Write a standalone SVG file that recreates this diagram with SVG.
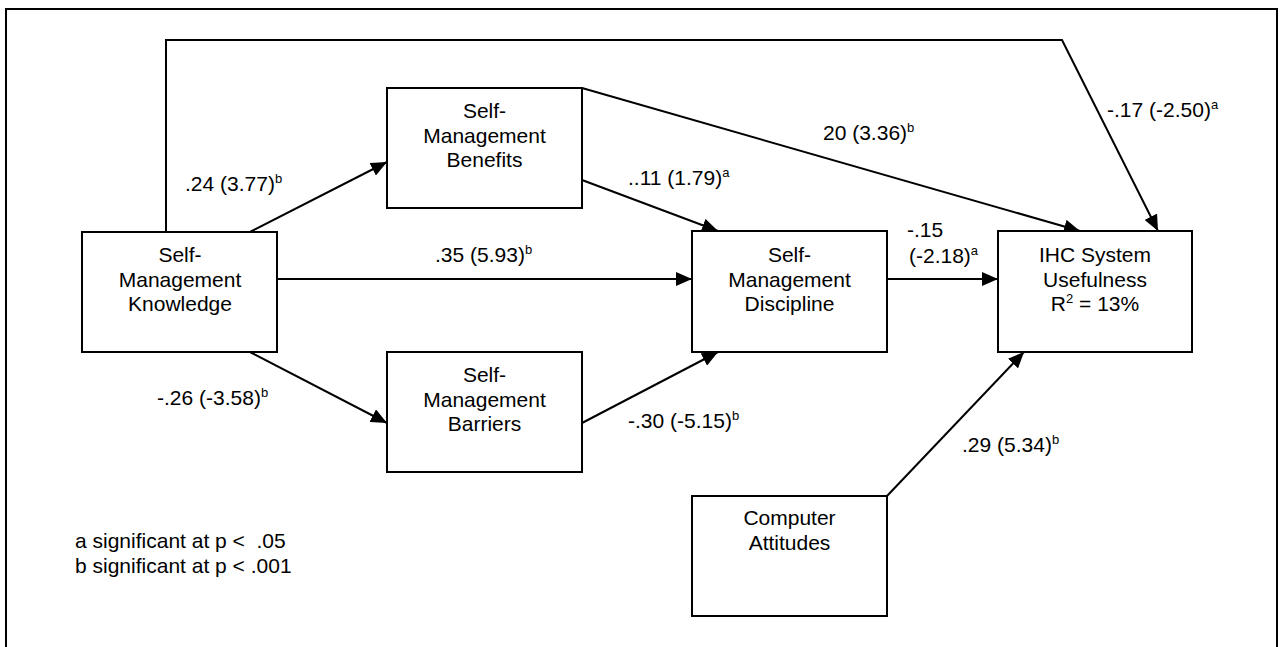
<svg xmlns="http://www.w3.org/2000/svg" width="1280" height="647" viewBox="0 0 1280 647">
<style>
  text { font-family: "Liberation Sans", Arial, sans-serif; font-size: 21px; fill: #000; }
  .c { text-anchor: middle; }
  .sup { font-size: 13px; }
  .box { fill: #fff; stroke: #000; stroke-width: 2; }
  .edge { fill: none; stroke: #000; stroke-width: 2; marker-end: url(#arr); }
</style>
<defs>
  <marker id="arr" markerUnits="userSpaceOnUse" markerWidth="16" markerHeight="14" refX="16" refY="7" orient="auto">
    <path d="M0,0 L16,7 L0,14 z" fill="#000"/>
  </marker>
</defs>
<rect width="1280" height="647" fill="#fff"/>
<path d="M6,647 V9 H1277 V647" fill="none" stroke="#000" stroke-width="2"/>

<g id="connectors">
  <path class="edge" d="M166,232 V40 H1062 L1158,231"/>
  <path class="edge" d="M250,232 L387,162"/>
  <path class="edge" d="M277,279 H692"/>
  <path class="edge" d="M250,352 L387,423"/>
  <path class="edge" d="M582,88 L1080,231"/>
  <path class="edge" d="M582,180 L718,231"/>
  <path class="edge" d="M582,423 L718,352"/>
  <path class="edge" d="M887,279 H998"/>
  <path class="edge" d="M887,496 L1024,352"/>
</g>

<g id="node-knowledge">
  <rect class="box" x="82" y="232" width="195" height="120"/>
  <text class="c" x="180" y="262">Self-</text>
  <text class="c" x="180" y="287">Management</text>
  <text class="c" x="180" y="311">Knowledge</text>
</g>
<g id="node-benefits">
  <rect class="box" x="387" y="88" width="195" height="120"/>
  <text class="c" x="484.5" y="118">Self-</text>
  <text class="c" x="484.5" y="143">Management</text>
  <text class="c" x="484.5" y="167">Benefits</text>
</g>
<g id="node-barriers">
  <rect class="box" x="387" y="352" width="195" height="120"/>
  <text class="c" x="484.5" y="382">Self-</text>
  <text class="c" x="484.5" y="407">Management</text>
  <text class="c" x="484.5" y="431">Barriers</text>
</g>
<g id="node-discipline">
  <rect class="box" x="692" y="231" width="195" height="121"/>
  <text class="c" x="789.5" y="262">Self-</text>
  <text class="c" x="789.5" y="287">Management</text>
  <text class="c" x="789.5" y="311">Discipline</text>
</g>
<g id="node-ihc">
  <rect class="box" x="998" y="231" width="194" height="121"/>
  <text class="c" x="1095" y="262">IHC System</text>
  <text class="c" x="1095" y="287">Usefulness</text>
  <text class="c" x="1095" y="311">R<tspan class="sup" dy="-8">2</tspan><tspan dy="8"> = 13%</tspan></text>
</g>
<g id="node-computer">
  <rect class="box" x="692" y="496" width="195" height="120"/>
  <text class="c" x="789.5" y="525">Computer</text>
  <text class="c" x="789.5" y="550">Attitudes</text>
</g>

<g id="labels">
  <text x="185" y="191">.24 (3.77)<tspan class="sup" dy="-8">b</tspan></text>
  <text x="628" y="185">..11 (1.79)<tspan class="sup" dy="-8">a</tspan></text>
  <text x="823" y="140">20 (3.36)<tspan class="sup" dy="-8">b</tspan></text>
  <text x="1107" y="117">-.17 (-2.50)<tspan class="sup" dy="-8">a</tspan></text>
  <text x="435" y="262">.35 (5.93)<tspan class="sup" dy="-8">b</tspan></text>
  <text x="907" y="237">-.15</text>
  <text x="909" y="263">(-2.18)<tspan class="sup" dy="-8">a</tspan></text>
  <text x="157" y="405">-.26 (-3.58)<tspan class="sup" dy="-8">b</tspan></text>
  <text x="628" y="428">-.30 (-5.15)<tspan class="sup" dy="-8">b</tspan></text>
  <text x="962" y="452">.29 (5.34)<tspan class="sup" dy="-8">b</tspan></text>
</g>

<g id="legend">
  <text x="75" y="548" xml:space="preserve">a significant at p &lt;  .05</text>
  <text x="75" y="573">b significant at p &lt; .001</text>
</g>
</svg>
